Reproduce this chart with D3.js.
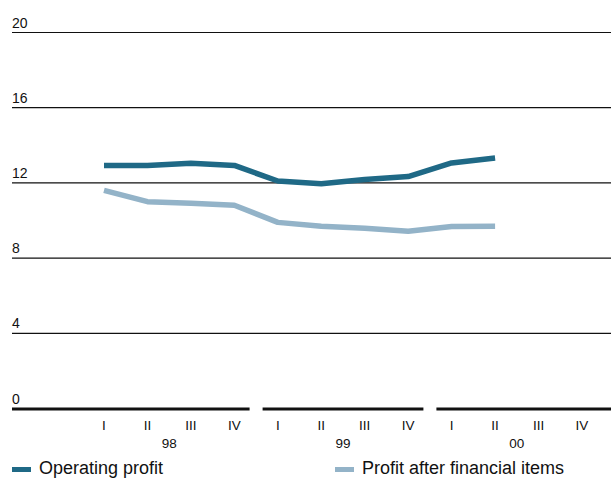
<!DOCTYPE html>
<html>
<head>
<meta charset="utf-8">
<script src="https://cdn.jsdelivr.net/npm/d3@7"></script>
<style>
  html, body { margin: 0; padding: 0; background: #fff; }
  svg { display: block; font-family: "Liberation Sans", Arial, sans-serif; }
</style>
</head>
<body>
<svg id="chart" width="611" height="478"></svg>
<script>
// Quarterly margins, per cent
const years = ["98", "99", "00"];
const quarters = ["I", "II", "III", "IV"];
const operatingProfit = [12.92, 12.92, 13.05, 12.93, 12.1, 11.95, 12.18, 12.34, 13.06, 13.32];
const profitAfterFinancial = [11.6, 11.0, 10.92, 10.81, 9.9, 9.7, 9.59, 9.43, 9.68, 9.7];
const yTicks = [0, 4, 8, 12, 16, 20];
const legendLabels = ["Operating profit", "Profit after financial items"];
const colors = ["#1f6986", "#93b3c8"];

const svg = d3.select("#chart");
const W = 611;
const left = 12;

const periods = years.flatMap(y => quarters.map(q => y + "-" + q));

const x = d3.scalePoint().domain(periods).range([104, 582]);
const y = d3.scaleLinear().domain([0, 20]).range([408.5, 32.5]);
const step = x.step();

// Horizontal grid lines with value labels
const grid = svg.append("g");
yTicks.filter(t => t > 0).forEach(t => {
  grid.append("line")
    .attr("x1", left).attr("x2", W)
    .attr("y1", y(t)).attr("y2", y(t))
    .attr("stroke", "#111").attr("stroke-width", 1.2);
});
yTicks.forEach(t => {
  grid.append("text")
    .attr("x", left).attr("y", y(t) - 5)
    .attr("font-size", 14).attr("fill", "#111")
    .text(t);
});

// Baseline, split into one segment per year
const gap = 13;
years.forEach((yr, i) => {
  const first = x(yr + "-I"), last = x(yr + "-IV");
  const x0 = i === 0 ? left : first - step / 2 + gap / 2;
  const x1 = i === years.length - 1 ? W : last + step / 2 - gap / 2;
  svg.append("line")
    .attr("x1", x0).attr("x2", x1)
    .attr("y1", y(0) + 0.5).attr("y2", y(0) + 0.5)
    .attr("stroke", "#111").attr("stroke-width", 3);
  svg.append("text")
    .attr("x", (first + last) / 2).attr("y", 448)
    .attr("text-anchor", "middle").attr("font-size", 13.5).attr("fill", "#111")
    .text(yr);
});

// Quarter labels
svg.append("g").selectAll("text")
  .data(periods).join("text")
  .attr("x", d => x(d)).attr("y", 430)
  .attr("text-anchor", "middle").attr("font-size", 13.5).attr("fill", "#111")
  .text(d => d.split("-")[1]);

// Series lines
const line = d3.line()
  .x((d, i) => x(periods[i]))
  .y(d => y(d));

[profitAfterFinancial, operatingProfit].forEach((series, k) => {
  svg.append("path")
    .attr("d", line(series))
    .attr("fill", "none")
    .attr("stroke", colors[1 - k])
    .attr("stroke-width", 5.5)
    .attr("stroke-linejoin", "round");
});

// Legend
const legendX = [12, 335];
legendLabels.forEach((lab, i) => {
  svg.append("rect")
    .attr("x", legendX[i]).attr("y", 467)
    .attr("width", 19).attr("height", 5)
    .attr("fill", colors[i]);
  svg.append("text")
    .attr("x", legendX[i] + 27).attr("y", 474)
    .attr("font-size", 18).attr("fill", "#111")
    .text(lab);
});
</script>
</body>
</html>
